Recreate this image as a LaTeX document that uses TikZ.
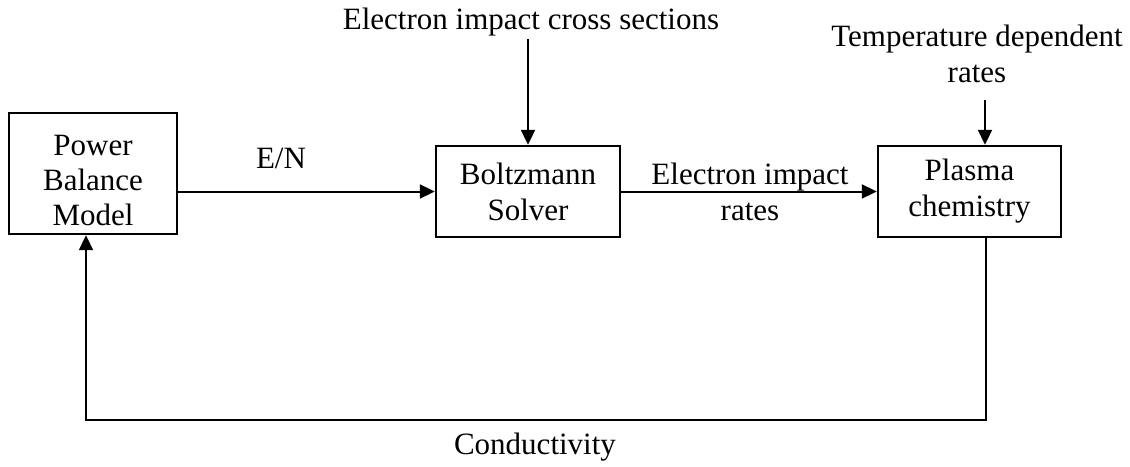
\documentclass[tikz,border=0pt]{standalone}
\usepackage{fontspec}
\setmainfont{Liberation Serif}
\usetikzlibrary{arrows.meta}
\begin{document}
\begin{tikzpicture}[x=1pt,y=-1pt,
  font=\fontsize{31}{36}\selectfont,
  blockbox/.style={draw, line width=2.4pt, align=center, inner sep=0pt},
  lbl/.style={align=center, inner sep=0pt},
  conn/.style={line width=2pt, -{Triangle[length=15pt,width=14pt]}}]
\useasboundingbox (0,0) rectangle (1130,466);
\node[blockbox, minimum width=168pt, minimum height=121pt, font=\fontsize{31}{35}\selectfont] (pbm) at (93,173.5) {\rule{0pt}{6pt}\\[-6pt]Power\\Balance\\Model};
\node[blockbox, minimum width=184pt, minimum height=91pt] (bs) at (528,191.5) {Boltzmann\\Solver};
\node[blockbox, minimum width=183pt, minimum height=91pt] (pc) at (969.5,191.5) {Plasma\\chemistry};
\node[lbl] (en) at (281,158) {E/N};
\node[lbl] (eics) at (531,22) {Electron impact cross sections};
\node[lbl] (eir) at (750,191.5) {Electron impact\\rates};
\node[lbl] (tdr) at (977,53.5) {Temperature dependent\\rates};
\node[lbl] (cond) at (535,447) {Conductivity};
\coordinate (tin) at (985,100);
\coordinate (fbr) at (986,420);
\coordinate (fbl) at (86,420);
\draw[conn] (bs.west -| pbm.east) -- (bs.west);
\draw[conn] ([yshift=-3pt]bs.north |- eics.south) -- (bs.north);
\draw[conn] (bs.east) -- (pc.west);
\draw[conn] (tin) -- (tin |- pc.north);
\draw[conn] (fbr |- pc.south) -- (fbr) -- (fbl) -- (fbl |- pbm.south);
\end{tikzpicture}
\end{document}
